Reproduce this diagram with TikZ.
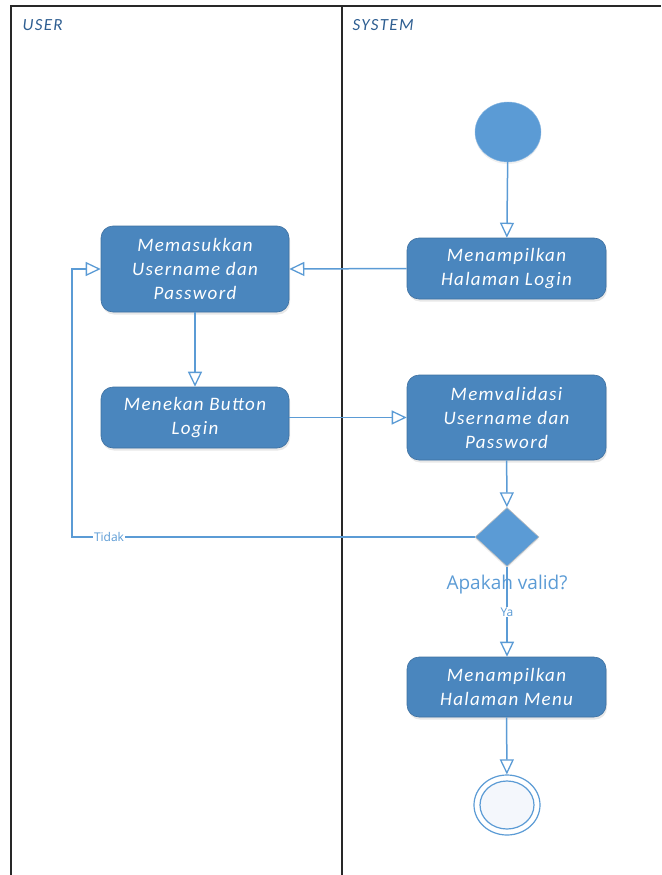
\documentclass[tikz,border=0pt]{standalone}
\usepackage{fontspec}
\setmainfont{Carlito}
\newfontfamily\boxfont[LetterSpace=7]{Carlito}
\newfontfamily\headfont[LetterSpace=8]{Carlito}
\newfontfamily\labelfont{Open Sans}
\usetikzlibrary{arrows.meta,shapes.geometric,shadows}

\definecolor{actfill}{RGB}{74,134,190}
\definecolor{actedge}{RGB}{62,112,160}
\definecolor{flowblue}{RGB}{91,155,213}
\definecolor{headblue}{RGB}{46,94,145}
\definecolor{lanegray}{RGB}{40,40,40}
\definecolor{endfill}{RGB}{244,247,252}

\tikzset{
  activity/.style={rectangle, rounded corners=12pt, fill=actfill, draw=actedge,
    line width=0.6pt, text=white, align=center, minimum width=188pt,
    inner sep=0pt, font=\boxfont\itshape\fontsize{19}{24}\selectfont,
    drop shadow={opacity=0.18, shadow xshift=1pt, shadow yshift=-2.5pt}},
  startnode/.style={ellipse, fill=flowblue, draw=flowblue!70!white,
    minimum width=66pt, minimum height=60pt, inner sep=0pt,
    drop shadow={opacity=0.12, shadow xshift=0pt, shadow yshift=-2pt}},
  decision/.style={diamond, fill=flowblue, draw=black!25, line width=0.6pt,
    minimum width=64pt, minimum height=59pt, inner sep=0pt,
    drop shadow={opacity=0.12, shadow xshift=0pt, shadow yshift=-2pt}},
  flow/.style={draw=flowblue, line width=1.5pt,
    -{Triangle[length=15pt,width=14pt,fill=white,line width=1.3pt]}},
  lane/.style={draw=lanegray, line width=2pt},
  lanetitle/.style={text=headblue, font=\headfont\itshape\fontsize{17}{18}\selectfont, anchor=west},
  smalllabel/.style={text=flowblue, fill=white, inner sep=1pt,
    font=\labelfont\fontsize{12}{13}\selectfont}
}

\begin{document}
\begin{tikzpicture}[x=1pt,y=-1pt]
\useasboundingbox (0,0) rectangle (661,875);

% swimlanes
\draw[lane] (11,875) -- (11,6.5) -- (661,6.5);
\draw[lane] (342,6.5) -- (342,875);
\node[lanetitle] (laneuser) at (19,25) {USER};
\node[lanetitle] (lanesys) at (349,25) {SYSTEM};

% nodes
\node[startnode] (start) at (508,132) {};
\node[activity, minimum height=61pt, minimum width=199pt] (showlogin) at (506.5,268.5) {Menampilkan\\Halaman Login};
\node[activity, minimum height=86pt] (input) at (195,269) {Memasukkan\\Username dan\\Password};
\node[activity, minimum height=61pt] (press) at (195,417.5) {Menekan Button\\Login};
\node[activity, minimum height=85pt, minimum width=199pt] (validate) at (506.5,417.5) {Memvalidasi\\Username dan\\Password};
\node[decision] (valid) at (507,537) {};
\node[text=flowblue, font=\labelfont\fontsize{19}{20}\selectfont] (validq) at (507,585) {Apakah valid?};
\node[activity, minimum height=60pt, minimum width=199pt] (showmenu) at (506.5,687) {Menampilkan\\Halaman Menu};
\node[ellipse, draw=flowblue, line width=1.2pt, fill=white,
      minimum width=66pt, minimum height=60pt, inner sep=0pt] (finish) at (507,805) {};
\node[ellipse, draw=flowblue, line width=1.2pt, fill=endfill,
      minimum width=54pt, minimum height=48pt, inner sep=0pt] (finishin) at (507,805) {};

% connectors
\draw[flow] (start) -- (showlogin);
\draw[flow] (showlogin.west) -- (input.east);
\draw[flow] (input) -- (press);
\draw[flow] (press.east) -- (press.east -| validate.west);
\draw[flow] (validate) -- (valid);
\coordinate (back) at (72,537);
\draw[flow] (valid.west) -- (back) |- (input.west);
\node[smalllabel] (tidak) at (109,537) {Tidak};
\draw[flow] (valid.south) -- (finish.north |- showmenu.north);
\node[smalllabel] (ya) at (507,612) {Ya};
\draw[flow] (showmenu) -- (finish);

\end{tikzpicture}
\end{document}
